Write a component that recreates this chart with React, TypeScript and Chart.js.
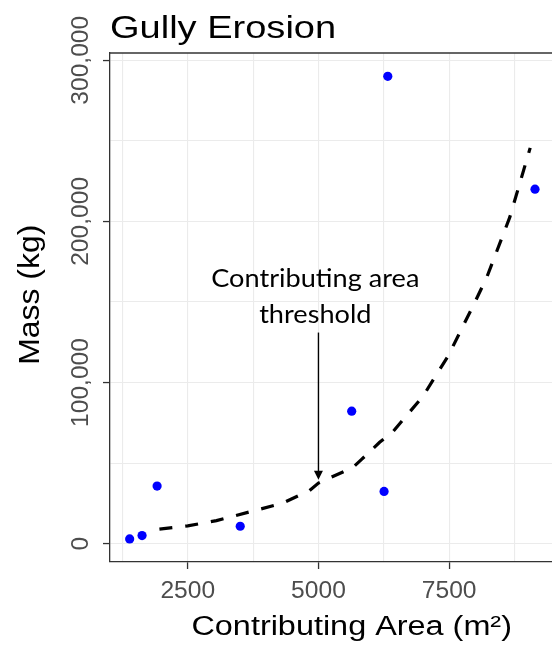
import React, { useEffect, useRef } from "react";
import { Chart, registerables } from "chart.js";

Chart.register(...registerables);

// Observed gullies
const areaValues = [1389, 1626, 1914, 3504, 5636, 6255, 6326, 9142];
const massValues = [2900, 5000, 35700, 10800, 82200, 32400, 290000, 220000];

// Fitted (dashed) curve
const fitArea = [1958, 2500, 3050, 3270, 3780, 4320, 4830, 5000, 5660, 5820, 6170, 6430, 7000, 7480, 7990, 8220, 8660, 9050];
const fitMass = [8970, 11000, 14300, 16200, 20500, 25200, 33000, 37600, 47300, 52100, 62900, 69700, 91500, 116400, 149700, 165300, 202600, 245600];

// Axis ticks (major = labelled, grid = major + minor)
const xMajorTicks = [2500, 5000, 7500];
const xGridTicks = [1250, 2500, 3750, 5000, 6250, 7500, 8750];
const yMajorTicks = [0, 100000, 200000, 300000];
const yGridTicks = [0, 50000, 100000, 150000, 200000, 250000, 300000];
const xRange = [1013, 9467];
const yRange = [-11400, 304500];

// Annotation
const thresholdArea = 5000;
const arrowMassStart = 131000;
const arrowMassEnd = 39600;
const annotationLines = ["Contributing area", "threshold"];
const annotationMass = [159000, 137200];
const annotationArea = 4940;

const chartTitle = "Gully Erosion";
const xTitle = "Contributing Area (m\u00B2)";
const yTitle = "Mass (kg)";

const AXIS = "#333333";
const TICK_TEXT = "#4D4D4D";
const GRID = "#EBEBEB";

function drawText(
  ctx: CanvasRenderingContext2D,
  text: string,
  x: number,
  y: number,
  font: string,
  color: string,
  align: CanvasTextAlign,
  sx: number,
  rotate: boolean,
  baseline: CanvasTextBaseline = "alphabetic"
) {
  ctx.save();
  ctx.translate(x, y);
  if (rotate) ctx.rotate(-Math.PI / 2);
  ctx.scale(sx, 1);
  ctx.font = font;
  ctx.fillStyle = color;
  ctx.textAlign = align;
  ctx.textBaseline = baseline;
  ctx.fillText(text, 0, 0);
  ctx.restore();
}

const decorPlugin = {
  id: "decor",
  afterDraw(chart: any) {
    const ctx: CanvasRenderingContext2D = chart.ctx;
    const { chartArea } = chart;
    const xs = chart.scales.x;
    const ys = chart.scales.y;

    // top panel border
    ctx.save();
    ctx.strokeStyle = AXIS;
    ctx.lineWidth = 1.3;
    ctx.beginPath();
    ctx.moveTo(chartArea.left, chartArea.top);
    ctx.lineTo(chartArea.right, chartArea.top);
    ctx.stroke();
    ctx.restore();

    // y tick labels (rotated)
    yMajorTicks.forEach((v) => {
      const py = ys.getPixelForValue(v);
      drawText(ctx, v.toLocaleString("en-US"), 80.8, py, '24.6px "Liberation Sans", Arial, sans-serif', TICK_TEXT, "center", 1, true, "middle");
    });

    // arrow
    const ax = xs.getPixelForValue(thresholdArea);
    const ay1 = ys.getPixelForValue(arrowMassStart);
    const ay2 = ys.getPixelForValue(arrowMassEnd);
    ctx.save();
    ctx.strokeStyle = "#000";
    ctx.fillStyle = "#000";
    ctx.lineWidth = 1.4;
    ctx.beginPath();
    ctx.moveTo(ax, ay1);
    ctx.lineTo(ax, ay2 - 6);
    ctx.stroke();
    ctx.beginPath();
    ctx.moveTo(ax, ay2);
    ctx.lineTo(ax - 4.5, ay2 - 9);
    ctx.lineTo(ax + 4.5, ay2 - 9);
    ctx.closePath();
    ctx.fill();
    ctx.restore();

    // annotation text
    const tx = xs.getPixelForValue(annotationArea);
    annotationLines.forEach((line, i) => {
      drawText(ctx, line, tx, ys.getPixelForValue(annotationMass[i]), '25px Lato, "Open Sans", sans-serif', "#000", "center", 1.085, false);
    });

    // titles
    drawText(ctx, chartTitle, 110, 37.7, '31.7px "Liberation Sans", Arial, sans-serif', "#000", "left", 1.2, false);
    drawText(ctx, xTitle, 351.7, 635, '27px "Liberation Sans", Arial, sans-serif', "#000", "center", 1.2, false);
    drawText(ctx, yTitle, 39.3, 294.7, '29px "Liberation Sans", Arial, sans-serif', "#000", "center", 1.1, true);
  },
};

export default function App() {
  const canvasRef = useRef<HTMLCanvasElement | null>(null);

  useEffect(() => {
    if (!canvasRef.current) return;
    const chart = new Chart(canvasRef.current, {
      type: "scatter",
      data: {
        datasets: [
          {
            type: "scatter",
            label: "Gullies",
            data: areaValues.map((a, i) => ({ x: a, y: massValues[i] })),
            backgroundColor: "#0000FF",
            borderColor: "#0000FF",
            pointRadius: 4.6,
            borderWidth: 0,
          },
          {
            type: "line",
            label: "Fit",
            data: fitArea.map((a, i) => ({ x: a, y: fitMass[i] })),
            borderColor: "#000000",
            borderWidth: 3.2,
            borderDash: [13, 13],
            borderCapStyle: "butt",
            pointRadius: 0,
            tension: 0,
            fill: false,
          } as any,
        ],
      },
      options: {
        animation: false,
        responsive: false,
        layout: { autoPadding: false, padding: { left: 0, right: 0, top: 53, bottom: 0 } },
        plugins: {
          legend: { display: false },
          title: { display: false },
          tooltip: { enabled: false },
        },
        scales: {
          x: {
            type: "linear",
            min: xRange[0],
            max: xRange[1],
            afterBuildTicks: (s: any) => {
              s.ticks = xGridTicks.map((v) => ({ value: v }));
            },
            afterFit: (s: any) => {
              s.height = 83;
            },
            border: { display: true, color: AXIS, width: 1.3 },
            grid: {
              color: GRID,
              lineWidth: 1.1,
              tickLength: 7,
              tickWidth: 1.3,
              tickColor: (c: any) => (c.tick && xMajorTicks.includes(c.tick.value) ? AXIS : "rgba(0,0,0,0)"),
            },
            ticks: {
              autoSkip: false,
              maxRotation: 0,
              padding: 7,
              color: TICK_TEXT,
              font: { family: '"Liberation Sans", Arial, sans-serif', size: 24.6 },
              callback: (v: any) => (xMajorTicks.includes(Number(v)) ? String(v) : ""),
            },
          },
          y: {
            type: "linear",
            min: yRange[0],
            max: yRange[1],
            afterBuildTicks: (s: any) => {
              s.ticks = yGridTicks.map((v) => ({ value: v }));
            },
            afterFit: (s: any) => {
              s.width = 110;
            },
            border: { display: true, color: AXIS, width: 1.3 },
            grid: {
              color: GRID,
              lineWidth: 1.1,
              tickLength: 7,
              tickWidth: 1.3,
              tickColor: (c: any) => (c.tick && yMajorTicks.includes(c.tick.value) ? AXIS : "rgba(0,0,0,0)"),
            },
            ticks: {
              display: false,
            },
          },
        },
      },
      plugins: [decorPlugin],
    });
    return () => chart.destroy();
  }, []);

  return (
    <div style={{ position: "absolute", left: 0, top: 0, width: 552, height: 645, background: "#fff" }}>
      <canvas ref={canvasRef} width={552} height={645} style={{ display: "block", width: 552, height: 645 }} />
    </div>
  );
}
